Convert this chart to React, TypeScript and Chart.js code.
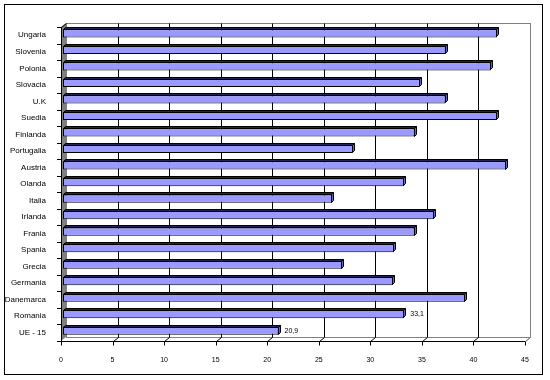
import React, { useEffect, useRef } from "react";
import { Chart, registerables } from "chart.js";

Chart.register(...registerables);

const categories = [
  "Ungaria", "Slovenia", "Polonia", "Slovacia", "U.K", "Suedia", "Finlanda",
  "Portugalia", "Austria", "Olanda", "Italia", "Irlanda", "Frania", "Spania",
  "Grecia", "Germania", "Danemarca", "Romania", "UE - 15",
];
const values = [
  42.1, 37.1, 41.5, 34.6, 37.1, 42.1, 34.1, 28.1, 43.0, 33.1, 26.1, 36.0,
  34.1, 32.1, 27.1, 32.0, 39.0, 33.1, 20.9,
];
const labelledCategories = ["Romania", "UE - 15"];
const axisMin = 0;
const axisMax = 45;
const axisStep = 5;

const FONT = "'Liberation Sans', Arial, sans-serif";
const DX = 5;
const DY = 4;
const BAR_SHIFT = 2;
const BAR_DEPTH = 2;

const decoPlugin = {
  id: "deco3d",
  beforeDraw(chart: any) {
    const ctx = chart.ctx;
    const { left, right, top, bottom } = chart.chartArea;
    const xs = chart.scales.x;
    const ys = chart.scales.y;
    ctx.save();
    ctx.fillStyle = "#ffffff";
    ctx.fillRect(0, 0, chart.width, chart.height);
    ctx.lineWidth = 1;
    ctx.strokeStyle = "#000000";
    ctx.strokeRect(4.5, 4.5, 538, 370);

    const L = Math.round(left), R = Math.round(right), T = Math.round(top), B = Math.round(bottom);
    ctx.strokeStyle = "#808080";
    ctx.strokeRect(L + DX + 0.5, T - DY + 0.5, R - L, B - T);
    ctx.strokeStyle = "#000000";
    for (let v = axisMin + axisStep; v < axisMax; v += axisStep) {
      const gx = Math.round(xs.getPixelForValue(v)) + DX + 0.5;
      ctx.beginPath();
      ctx.moveTo(gx, T - DY + 0.5);
      ctx.lineTo(gx, B - DY + 0.5);
      ctx.stroke();
    }
    ctx.strokeStyle = "#808080";
    ctx.beginPath();
    ctx.moveTo(R + 0.5, B + 0.5);
    ctx.lineTo(R + DX + 0.5, B - DY + 0.5);
    ctx.stroke();
    ctx.fillStyle = "#808080";
    ctx.beginPath();
    ctx.moveTo(L, T);
    ctx.lineTo(L + DX, T - DY);
    ctx.lineTo(L + DX, B - DY);
    ctx.lineTo(L, B);
    ctx.closePath();
    ctx.fill();
    ctx.strokeStyle = "#000000";
    ctx.beginPath();
    ctx.moveTo(L + 0.5, T + 0.5);
    ctx.lineTo(L + DX + 0.5, T - DY + 0.5);
    ctx.moveTo(L + 0.5, T + 0.5);
    ctx.lineTo(L + 0.5, B + 0.5);
    ctx.stroke();
    const n = categories.length;
    const p0 = ys.getPixelForValue(0);
    const p1 = ys.getPixelForValue(1);
    const band = p1 - p0;
    for (let i = 0; i <= n; i++) {
      const yy = Math.round(p0 - band / 2 + i * band) + 0.5;
      ctx.beginPath();
      ctx.moveTo(L - 4, yy);
      ctx.lineTo(L + 0.5, yy);
      ctx.stroke();
    }
    ctx.beginPath();
    ctx.moveTo(L + 0.5, B + 0.5);
    ctx.lineTo(R + 0.5, B + 0.5);
    ctx.stroke();
    for (let v = axisMin; v <= axisMax; v += axisStep) {
      const px = Math.round(xs.getPixelForValue(v)) + 0.5;
      ctx.strokeStyle = "#000000";
      ctx.beginPath();
      ctx.moveTo(px, B + 0.5);
      ctx.lineTo(px, B + 4.5);
      ctx.stroke();
      if (v > axisMin) {
        ctx.strokeStyle = v === axisMax ? "#808080" : "#000000";
        ctx.beginPath();
        ctx.moveTo(px, B + 0.5);
        ctx.lineTo(px + DX, B - DY + 0.5);
        ctx.stroke();
      }
    }
    ctx.restore();
  },
  beforeDatasetsDraw(chart: any) {
    chart.ctx.save();
    chart.ctx.translate(BAR_SHIFT, -BAR_SHIFT);
  },
  afterDatasetsDraw(chart: any) {
    const ctx = chart.ctx;
    const meta = chart.getDatasetMeta(0);
    const d = BAR_DEPTH;
    meta.data.forEach((el: any) => {
      const { x, y, base, height } = el.getProps(["x", "y", "base", "height"], true);
      const top = Math.round(y - height / 2) + 0.5;
      const bot = Math.round(y + height / 2) - 0.5;
      const x0 = Math.round(base) + 0.5;
      const x1 = Math.round(x) - 0.5;
      ctx.lineWidth = 1;
      ctx.strokeStyle = "#000000";
      ctx.fillStyle = "#222255";
      ctx.beginPath();
      ctx.moveTo(x0, top);
      ctx.lineTo(x0 + d, top - d);
      ctx.lineTo(x1 + d, top - d);
      ctx.lineTo(x1, top);
      ctx.closePath();
      ctx.fill();
      ctx.stroke();
      ctx.fillStyle = "#6666b3";
      ctx.beginPath();
      ctx.moveTo(x1, top);
      ctx.lineTo(x1 + d, top - d);
      ctx.lineTo(x1 + d, bot - d);
      ctx.lineTo(x1, bot);
      ctx.closePath();
      ctx.fill();
      ctx.stroke();
    });
    ctx.restore();
    ctx.save();
    ctx.fillStyle = "#000000";
    ctx.font = `7px ${FONT}`;
    ctx.textAlign = "left";
    ctx.textBaseline = "middle";
    meta.data.forEach((el: any, i: number) => {
      if (!labelledCategories.includes(categories[i])) return;
      const { x, y } = el.getProps(["x", "y"], true);
      const txt = values[i].toFixed(1).replace(".", ",");
      ctx.fillText(txt, x + BAR_SHIFT + 6, y - BAR_SHIFT);
    });
    ctx.restore();
  },
};

export default function App() {
  const ref = useRef<HTMLCanvasElement>(null);
  useEffect(() => {
    if (!ref.current) return;
    const chart = new Chart(ref.current, {
      type: "bar",
      data: {
        labels: categories,
        datasets: [
          {
            data: values,
            backgroundColor: "#9999ff",
            borderColor: "#000000",
            borderWidth: 1,
            borderSkipped: false,
            barPercentage: 0.5,
            categoryPercentage: 1,
            clip: false as any,
          },
        ],
      },
      options: {
        indexAxis: "y",
        animation: false,
        responsive: false,
        events: [],
        layout: { padding: { top: 27, right: 25, left: 0, bottom: 0 } },
        plugins: { legend: { display: false }, tooltip: { enabled: false } },
        scales: {
          x: {
            min: axisMin,
            max: axisMax,
            grid: { display: false },
            border: { display: false },
            ticks: {
              stepSize: axisStep,
              color: "#000000",
              font: { size: 7, family: FONT },
              padding: 7,
              maxRotation: 0,
            },
            afterFit: (s: any) => {
              s.height = 39;
            },
          },
          y: {
            grid: { display: false },
            border: { display: false },
            ticks: {
              autoSkip: false,
              color: "#000000",
              font: { size: 8, family: FONT },
              padding: 7,
            },
            afterFit: (s: any) => {
              s.width = 61;
            },
          },
        },
      },
      plugins: [decoPlugin],
    });
    return () => chart.destroy();
  }, []);
  return (
    <div style={{ position: "absolute", left: 0, top: 0, width: 550, height: 380 }}>
      <canvas ref={ref} width={550} height={380} />
    </div>
  );
}
